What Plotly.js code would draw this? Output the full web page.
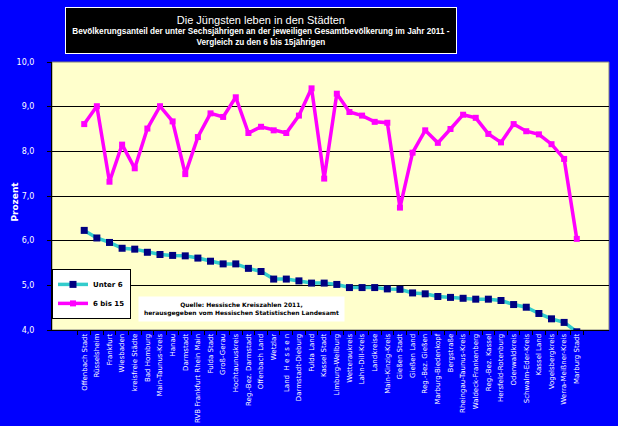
<!DOCTYPE html>
<html>
<head>
<meta charset="utf-8">
<script src="https://cdn.plot.ly/plotly-3.0.1.min.js"></script>
<style>
	body { margin: 0; background: #0000ff; }
	#graphDiv { width: 618px; height: 426px; }
</style>
</head>
<body>
<div id="graphDiv"></div>
<script>
// Regions (x axis categories)
const regionen = [
	'Offenbach Stadt', 'Rüsselsheim', 'Frankfurt', 'Wiesbaden', 'kreisfreie Städte',
	'Bad Homburg', 'Main-Taunus-Kreis', 'Hanau', 'Darmstadt', 'RVB Frankfurt Rhein Main',
	'Fulda Stadt', 'Groß-Gerau', 'Hochtaunuskreis', 'Reg.-Bez. Darmstadt', 'Offenbach Land',
	'Wetzlar', 'Land  H e s s e n', 'Darmstadt-Dieburg', 'Fulda Land', 'Kassel Stadt',
	'Limburg-Weilburg', 'Wetteraukreis', 'Lahn-Dill-Kreis', 'Landkreise', 'Main-Kinzig-Kreis',
	'Gießen Stadt', 'Gießen Land', 'Reg.-Bez. Gießen', 'Marburg-Biedenkopf', 'Bergstraße',
	'Rheingau-Taunus-Kreis', 'Waldeck-Frankenberg', 'Reg.-Bez. Kassel', 'Hersfeld-Rotenburg', 'Odenwaldkreis',
	'Schwalm-Eder-Kreis', 'Kassel Land', 'Vogelsbergkreis', 'Werra-Meißner-Kreis', 'Marburg Stadt'
];

// Share of under 6 year olds, percent
const unter6 = [
	6.23, 6.06, 5.96, 5.83, 5.81, 5.74, 5.69, 5.67, 5.66, 5.61,
	5.54, 5.48, 5.48, 5.38, 5.31, 5.14, 5.14, 5.10, 5.05, 5.05,
	5.02, 4.95, 4.95, 4.95, 4.92, 4.91, 4.83, 4.81, 4.75, 4.73,
	4.71, 4.69, 4.69, 4.66, 4.57, 4.51, 4.37, 4.25, 4.17, 3.96
];

// Share of 6 to 15 year olds, percent
const sechsBis15 = [
	8.61, 9.01, 7.32, 8.15, 7.62, 8.51, 9.01, 8.67, 7.49, 8.32,
	8.85, 8.77, 9.21, 8.41, 8.55, 8.47, 8.41, 8.80, 9.41, 7.39,
	9.29, 8.88, 8.80, 8.66, 8.64, 6.74, 7.97, 8.47, 8.19, 8.50,
	8.82, 8.75, 8.39, 8.20, 8.61, 8.45, 8.38, 8.16, 7.83, 6.04
];

const txtFont = 'DejaVu Sans, Verdana, sans-serif';
const titleFont = 'Liberation Sans, Arial, sans-serif';

const traceUnter6 = {
	type: 'scatter',
	mode: 'lines+markers',
	name: 'Unter 6',
	x: regionen,
	y: unter6,
	line: { color: '#33cccc', width: 3.5 },
	marker: { color: '#000080', symbol: 'square', size: 7 },
};

const trace6bis15 = {
	type: 'scatter',
	mode: 'lines+markers',
	name: '6 bis 15',
	x: regionen,
	y: sechsBis15,
	line: { color: '#ff00ff', width: 3.5 },
	marker: { color: '#ff00ff', symbol: 'square', size: 6 },
};

const layout = {
	width: 618,
	height: 426,
	paper_bgcolor: '#0000ff',
	plot_bgcolor: '#ffffcc',
	separators: ',.',
	margin: { l: 52, r: 9, t: 62, b: 96, pad: 0 },
	font: { family: txtFont, color: 'white', size: 8 },
	showlegend: true,
	legend: {
		x: 0, y: 0.228, xanchor: 'left', yanchor: 'top',
		bgcolor: 'white', bordercolor: 'black', borderwidth: 1,
		font: { family: txtFont, color: 'black', size: 7, weight: 'bold' },
		itemwidth: 30, tracegroupgap: 0,
		traceorder: 'normal',
	},
	xaxis: {
		type: 'category',
		tickangle: -90,
		tickson: 'boundaries',
		ticks: 'outside',
		ticklen: 4,
		tickcolor: 'black',
		showline: true,
		linecolor: 'black',
		linewidth: 1,
		showgrid: false,
		tickfont: { family: txtFont, color: 'white', size: 7 },
	},
	yaxis: {
		range: [4, 10],
		dtick: 1,
		tickformat: '.1f',
		ticks: 'outside',
		ticklen: 4,
		tickcolor: 'black',
		ticklabelstandoff: 11,
		showline: true,
		linecolor: 'black',
		linewidth: 1,
		gridcolor: 'black',
		gridwidth: 1,
		zeroline: false,
		tickfont: { family: txtFont, color: 'white', size: 8 },
	},
	shapes: [
		{
			type: 'rect', xref: 'paper', yref: 'paper', x0: 0, x1: 1, y0: 0, y1: 1,
			line: { color: '#808080', width: 1 }, layer: 'below',
		},
	],
	annotations: [
		{
			xref: 'paper', yref: 'paper', x: 0.376, y: 1.117,
			xanchor: 'center', yanchor: 'middle',
			width: 388, height: 43,
			bgcolor: 'black', bordercolor: 'white', borderwidth: 1,
			showarrow: false,
			align: 'center',
			font: { family: titleFont, color: 'white', size: 8.2 },
			text: '<span style="font-size:11px">Die Jüngsten leben in den Städten</span><br>' +
				'<b>Bevölkerungsanteil der unter Sechsjährigen an der jeweiligen Gesamtbevölkerung im Jahr 2011 -</b><br>' +
				'<b>Vergleich zu den 6 bis 15jährigen</b>',
		},
		{
			// y axis title
			xref: 'paper', yref: 'paper', x: -0.066, y: 0.48,
			xanchor: 'center', yanchor: 'middle',
			textangle: -90,
			showarrow: false,
			font: { family: txtFont, color: 'white', size: 9 },
			text: '<b>Prozent</b>',
		},
		{
			xref: 'paper', yref: 'paper', x: 0.34, y: 0.077,
			xanchor: 'center', yanchor: 'middle',
			width: 205, height: 24,
			bgcolor: 'white', borderpad: 0,
			showarrow: false,
			align: 'center',
			font: { family: txtFont, color: 'black', size: 6 },
			text: '<b>Quelle: Hessische Kreiszahlen 2011,</b><br><b>herausgegeben vom Hessischen Statistischen Landesamt</b>',
		},
	],
};

Plotly.newPlot('graphDiv', [traceUnter6, trace6bis15], layout, { displayModeBar: false, staticPlot: true });
</script>
</body>
</html>
